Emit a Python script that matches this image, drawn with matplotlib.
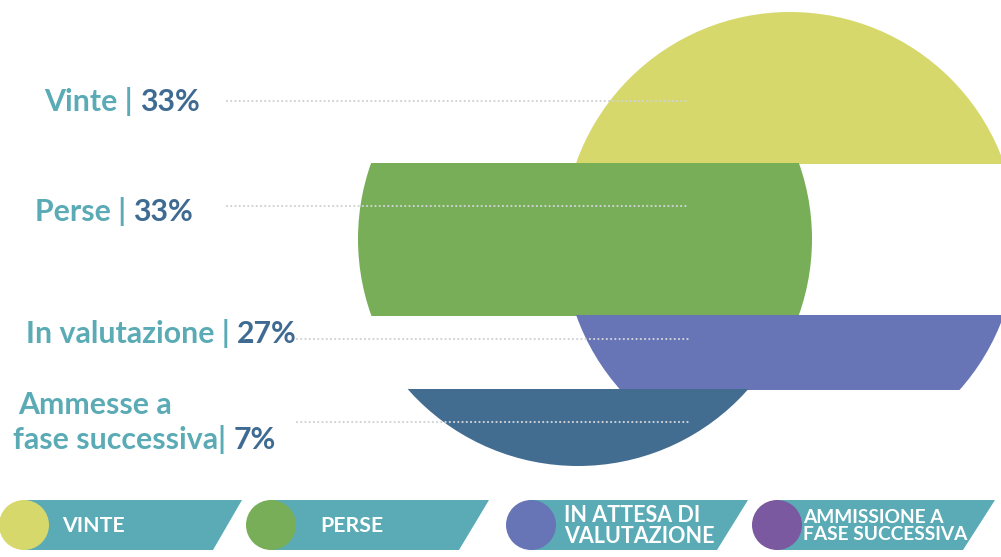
import matplotlib
matplotlib.use("Agg")
import matplotlib.pyplot as plt
from matplotlib.patches import Circle, Rectangle, Polygon

plt.rcParams['font.family'] = ['Lato', 'DejaVu Sans']

# --- data -------------------------------------------------------------
categories = ["Vinte", "Perse", "In valutazione", "Ammesse a\nfase successiva"]
percent = [33, 33, 27, 7]
legend_labels = ["VINTE", "PERSE", "IN ATTESA DI\nVALUTAZIONE", "AMMISSIONE A\nFASE SUCCESSIVA"]

strip_colors = ["#d7d86c", "#78ae58", "#6775b7", "#436c91"]
legend_colors = ["#d7d86c", "#78ae58", "#6775b7", "#7a59a1"]
TEAL = "#5aabb5"
NAVY = "#3f6b93"
DOT = "#cfd3d6"

# --- layout (pixel space, y grows downward) ---------------------------
W, H = 1001, 557
R, CY = 227, 239
strip_edges = [12, 163, 315, 389, 466]        # horizontal bands of the disc
strip_cx = [790, 585, 790, 578]               # horizontal shift of each band
dot_y = [101, 206, 339, 422]
dot_x0 = [227, 227, 297, 297]
dot_x1 = 688
label_end = [(200, 102), (193, 212), (297, 334), (276, 440)]

fig = plt.figure(figsize=(W / 100, H / 100), dpi=100)
ax = fig.add_axes([0, 0, 1, 1])
ax.set_xlim(0, W)
ax.set_ylim(H, 0)
ax.axis("off")

# shifted bands of one circle
for i, col in enumerate(strip_colors):
    top, bot = strip_edges[i], strip_edges[i + 1]
    c = Circle((strip_cx[i], CY), R, facecolor=col, edgecolor="none", zorder=2 + i)
    ax.add_patch(c)
    clip = Rectangle((0, top - (0.5 if i else 0)), W, bot - top + 1, transform=ax.transData)
    c.set_clip_path(clip)

# dotted leader lines
for y, x0 in zip(dot_y, dot_x0):
    ax.plot([x0, dot_x1], [y, y], color=DOT, lw=1.6,
            linestyle=(0, (0.01, 1.9)), dash_capstyle="round", zorder=10)

# category labels: teal name, navy percentage
FS = 21.8
WT = "bold"
for i, (name, p) in enumerate(zip(categories, percent)):
    xe, ye = label_end[i]
    lines = name.split("\n")
    pct = ax.text(xe, ye, f"{p}%", color=NAVY, fontsize=FS, fontweight=WT,
                  ha="right", va="center", zorder=11)
    head_txt = f"{lines[-1]} | " if i < 3 else f"{lines[-1]}| "
    ax.annotate(head_txt, xy=(0, 0), xycoords=pct, ha="right", va="bottom",
                color=TEAL, fontsize=FS, fontweight=WT, zorder=11)
    if len(lines) > 1:
        ax.text(18, ye - 35, lines[0], color=TEAL, fontsize=FS, fontweight=WT,
                ha="left", va="center", zorder=11)

# legend tiles
leg_cx = [24, 271, 531, 777]
leg_tr = [242, 489, 748, 995]
leg_br = [213, 459, 717, 963]
leg_tx = [62, 320, 564, 803]
LT, LB = 500, 550
for i, lab in enumerate(legend_labels):
    cx = leg_cx[i]
    ax.add_patch(Polygon([(cx, LT), (leg_tr[i], LT), (leg_br[i], LB), (cx, LB)],
                         closed=True, facecolor=TEAL, edgecolor="none", zorder=12))
    ax.add_patch(Circle((cx, (LT + LB) / 2), (LB - LT) / 2, facecolor=legend_colors[i],
                        edgecolor="none", zorder=13))
    fs = 15.3 if "\n" not in lab else (15.5 if i == 2 else 13.8)
    ax.text(leg_tx[i], (LT + LB) / 2 + 1, lab, color="white", fontsize=fs,
            fontweight="bold", ha="left", va="center", linespacing=0.95, zorder=14)

fig.savefig("out.png", dpi=100)
